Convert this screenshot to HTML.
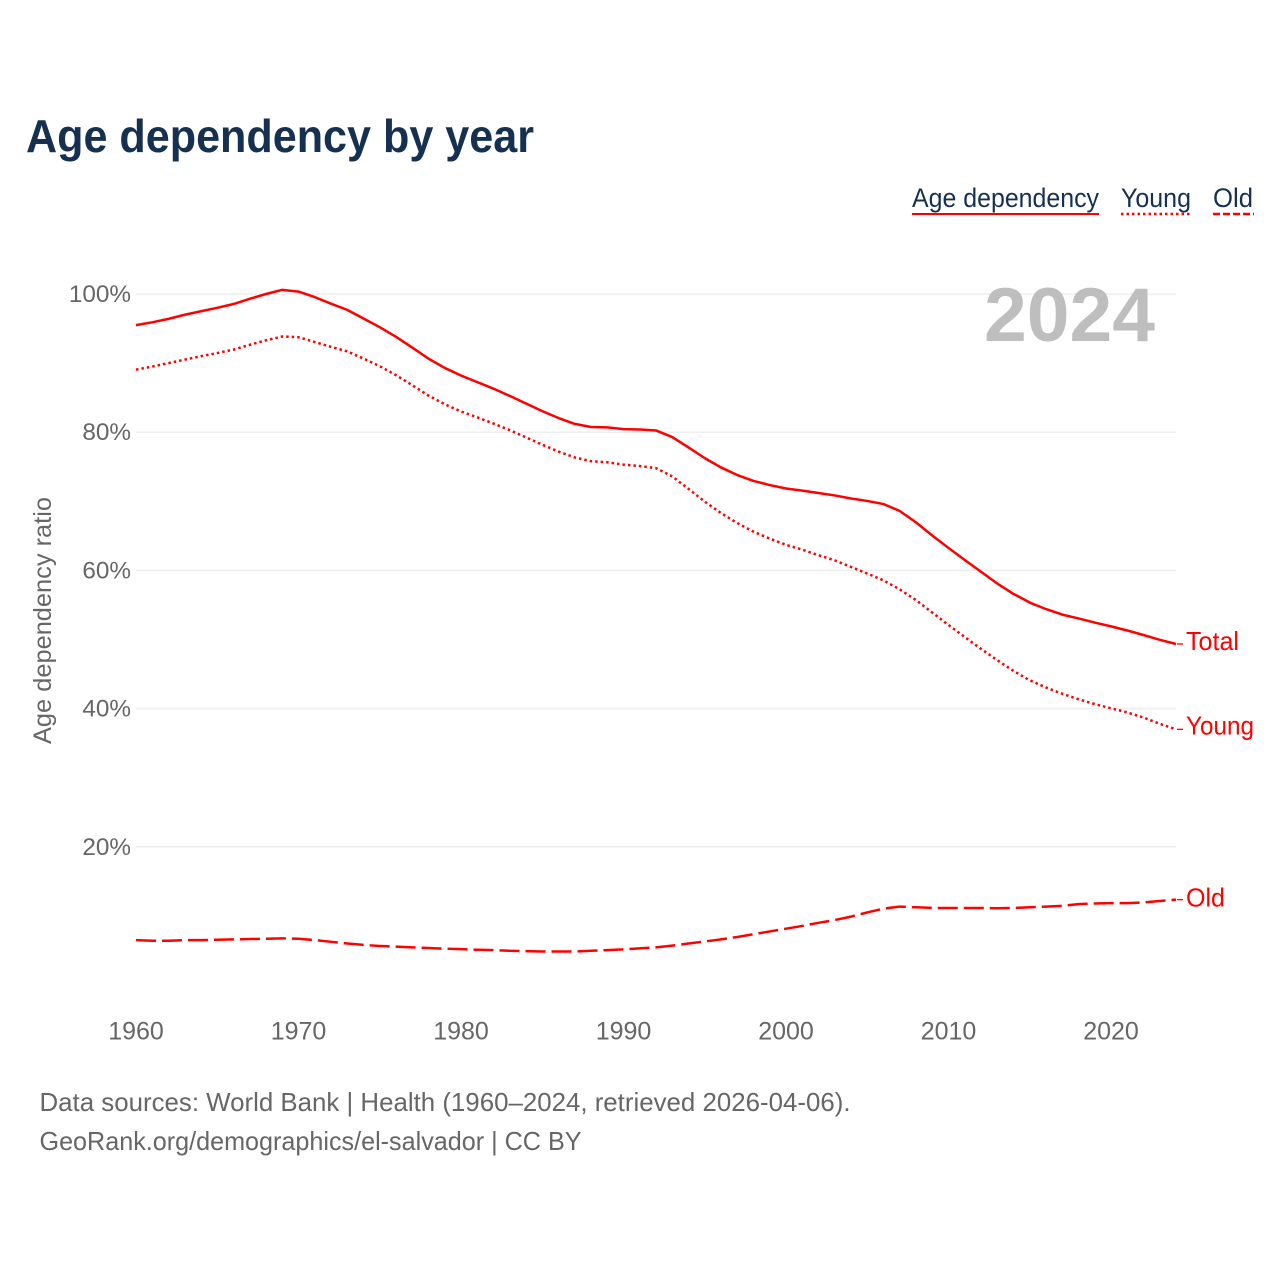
<!DOCTYPE html>
<html lang="en">
<head>
<meta charset="utf-8">
<title>Age dependency by year</title>
<style>
html,body{margin:0;padding:0;background:#fff;}
svg{display:block;font-family:"Liberation Sans",sans-serif;}
</style>
</head>
<body>
<svg id="chart" xmlns="http://www.w3.org/2000/svg" width="1280" height="1280" viewBox="0 0 1280 1280">
  <rect width="1280" height="1280" fill="#ffffff"/>
  <text x="26" y="152" font-size="46" font-weight="700" fill="#16304f" textLength="508" lengthAdjust="spacingAndGlyphs">Age dependency by year</text>

  <g>
    <g>
      <text x="912" y="207" font-size="27" fill="#16304f" textLength="187" lengthAdjust="spacingAndGlyphs">Age dependency</text>
      <line x1="912" y1="214" x2="1099" y2="214" stroke="#ff0000" stroke-width="2"/>
    </g>
    <g>
      <text x="1121" y="207" font-size="27" fill="#16304f" textLength="70" lengthAdjust="spacingAndGlyphs">Young</text>
      <line x1="1121" y1="214" x2="1190" y2="214" stroke="#ff0000" stroke-width="2.5" stroke-dasharray="2.5 3"/>
    </g>
    <g>
      <text x="1213" y="207" font-size="27" fill="#16304f" textLength="40" lengthAdjust="spacingAndGlyphs">Old</text>
      <line x1="1213" y1="214" x2="1254" y2="214" stroke="#ff0000" stroke-width="2.5" stroke-dasharray="7 3"/>
    </g>
  </g>

  <g id="grid"></g>
  <text x="1155" y="341" text-anchor="end" font-size="76" font-weight="700" fill="#bebebe" textLength="171" lengthAdjust="spacingAndGlyphs">2024</text>
  <g id="yticks"></g>
  <g id="xticks"></g>
  <text transform="translate(51,620.5) rotate(-90)" text-anchor="middle" font-size="25" fill="#666666" textLength="247" lengthAdjust="spacingAndGlyphs">Age dependency ratio</text>
  <g id="series"></g>
  <g id="labels"></g>

  <g>
    <text x="39.5" y="1111" font-size="26" fill="#666666" textLength="811" lengthAdjust="spacingAndGlyphs">Data sources: World Bank | Health (1960–2024, retrieved 2026-04-06).</text>
    <text x="39.5" y="1150" font-size="26" fill="#666666" textLength="542" lengthAdjust="spacingAndGlyphs">GeoRank.org/demographics/el-salvador | CC BY</text>
  </g>
</svg>
<script>
const startYear = 1960;
const endYear = 2024;
const yTickValues = [20, 40, 60, 80, 100];
const xTickYears = [1960, 1970, 1980, 1990, 2000, 2010, 2020];
const totalValues = [
  95.5, 95.9, 96.4, 97.0, 97.5, 98.0, 98.55, 99.3, 100.0, 100.6,
  100.35, 99.55, 98.6, 97.7, 96.45, 95.2, 93.8, 92.25, 90.65, 89.3,
  88.2, 87.25, 86.3, 85.25, 84.15, 83.05, 82.05, 81.2, 80.75, 80.7,
  80.45, 80.4, 80.25, 79.3, 77.8, 76.25, 74.9, 73.8, 72.95, 72.35,
  71.85, 71.55, 71.2, 70.85, 70.4, 70.05, 69.6, 68.6, 66.95, 65.05,
  63.25, 61.5, 59.8, 58.1, 56.6, 55.35, 54.4, 53.6, 53.05, 52.45,
  51.9, 51.3, 50.65, 49.95, 49.35
];
const youngValues = [
  89.05, 89.5, 90.0, 90.5, 91.0, 91.45, 91.95, 92.65, 93.3, 93.85,
  93.75, 93.05, 92.35, 91.7, 90.65, 89.55, 88.25, 86.8, 85.3, 84.05,
  83.0, 82.15, 81.25, 80.3, 79.25, 78.2, 77.2, 76.35, 75.8, 75.65,
  75.3, 75.1, 74.8, 73.6, 71.8, 69.95, 68.3, 66.85, 65.6, 64.6,
  63.7, 63.0, 62.2, 61.45, 60.5, 59.55, 58.55, 57.25, 55.7, 53.9,
  52.1, 50.35, 48.65, 47.0, 45.45, 44.1, 43.05, 42.15, 41.35, 40.65,
  40.05, 39.45, 38.7, 37.8, 37.0
];
const oldValues = [
  6.5, 6.4, 6.4, 6.5, 6.5, 6.55, 6.6, 6.65, 6.7, 6.75,
  6.7, 6.5, 6.25, 6.0, 5.8, 5.65, 5.55, 5.45, 5.35, 5.25,
  5.2, 5.1, 5.05, 4.95, 4.9, 4.85, 4.85, 4.85, 4.95, 5.05,
  5.15, 5.3, 5.45, 5.7, 6.0, 6.3, 6.6, 6.95, 7.35, 7.75,
  8.15, 8.55, 9.0, 9.4, 9.9, 10.5, 11.05, 11.35, 11.25, 11.15,
  11.15, 11.15, 11.15, 11.1, 11.15, 11.25, 11.35, 11.45, 11.7, 11.8,
  11.85, 11.85, 11.95, 12.15, 12.35
];

const NS = 'http://www.w3.org/2000/svg';
function xScale(year) { return 136 + (year - startYear) * (1176 - 136) / (endYear - startYear); }
function yScale(value) { return 294 + (100 - value) * 6.91; }
function make(tag, parent, attrs, text) {
  const el = document.createElementNS(NS, tag);
  Object.keys(attrs).forEach(function (k) { el.setAttribute(k, attrs[k]); });
  if (text !== undefined) el.textContent = text;
  parent.appendChild(el);
  return el;
}

const gridGroup = document.getElementById('grid');
const yTickGroup = document.getElementById('yticks');
const xTickGroup = document.getElementById('xticks');
const seriesGroup = document.getElementById('series');
const labelGroup = document.getElementById('labels');

yTickValues.forEach(function (v) {
  const g = make('line', gridGroup, { x1: 136, x2: 1176, y1: yScale(v), y2: yScale(v), stroke: '#eeeeee', 'stroke-width': 1.5 });
  
  
  const t = make('text', yTickGroup, { x: 131, y: yScale(v) + 8, 'text-anchor': 'end', 'font-size': 24.3, fill: '#666666' }, v + '%');
  
  
});

xTickYears.forEach(function (yr) {
  const t = make('text', xTickGroup, { x: xScale(yr), y: 1039.5, 'text-anchor': 'middle', 'font-size': 25, fill: '#666666' }, String(yr));
  
  
});

function drawSeries(values, dash, key, label, labelShift, labelWidth) {
  const pts = values.map(function (v, i) { return xScale(startYear + i).toFixed(2) + ',' + yScale(v).toFixed(2); }).join(' ');
  const line = make('polyline', seriesGroup, { points: pts, fill: 'none', stroke: '#ff0000', 'stroke-width': 2.5, 'stroke-linejoin': 'round' });
  if (dash) line.setAttribute('stroke-dasharray', dash);
  
  
  const lastY = yScale(values[values.length - 1]);
  const connector = make('line', labelGroup, { x1: 1177, x2: 1183, y1: lastY, y2: lastY, stroke: '#ff0000', 'stroke-width': 1.3 });
  
  
  const text = make('text', labelGroup, { x: 1186, y: lastY + labelShift, 'font-size': 26, fill: '#ff0000', textLength: labelWidth, lengthAdjust: 'spacingAndGlyphs' }, label);
  
  
}

drawSeries(totalValues, '', 'total', 'Total', 6, 53);
drawSeries(youngValues, '2.5 3', 'young', 'Young', 5, 68);
drawSeries(oldValues, '20 6', 'old', 'Old', 7, 39);
</script>
</body>
</html>
